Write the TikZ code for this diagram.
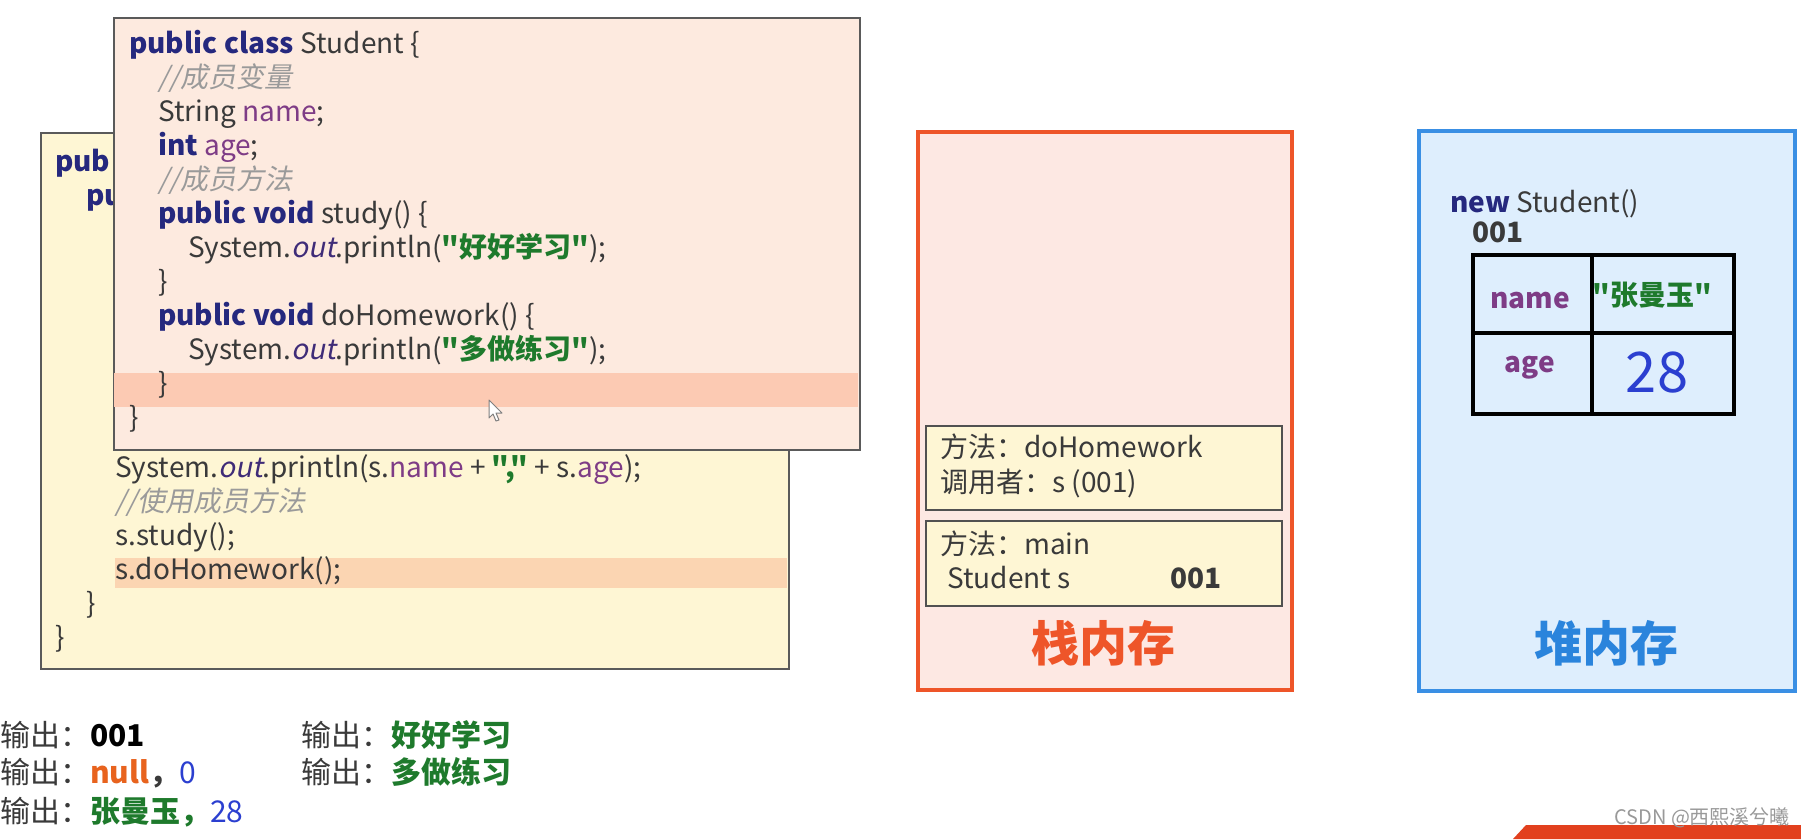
\documentclass[tikz,border=0pt]{standalone}
\usepackage{fontspec}
\setmainfont{Noto Sans CJK SC}[AutoFakeSlant=0.2,Ligatures=TeXOff]
\definecolor{codegray}{HTML}{3A3A3A}
\definecolor{kwblue}{HTML}{25287E}
\definecolor{fldpurple}{HTML}{7E3C86}
\definecolor{strgreen}{HTML}{1E7A2C}
\definecolor{cmgray}{HTML}{9A9A9A}
\definecolor{outpurple}{HTML}{3F2C78}
\definecolor{backfill}{HTML}{FEF6D4}
\definecolor{frontfill}{HTML}{FDEADF}
\definecolor{hlfront}{HTML}{FCCAB3}
\definecolor{hlback}{HTML}{FBD5B2}
\definecolor{boxline}{HTML}{5A5A5A}
\definecolor{stackline}{HTML}{EE5529}
\definecolor{stackfill}{HTML}{FDE8E3}
\definecolor{heapline}{HTML}{3A8FE4}
\definecolor{heapfill}{HTML}{DEEEFD}
\definecolor{heaptitle}{HTML}{2A84DC}
\definecolor{numblue}{HTML}{2B3FD0}
\definecolor{nullorange}{HTML}{E8631E}
\definecolor{banner}{HTML}{E2401E}
\newcommand\kwd[1]{\textbf{\color{kwblue}#1}}
\newcommand\fld[1]{{\color{fldpurple}#1}}
\newcommand\strg[1]{\textbf{\color{strgreen}#1}}
\newcommand\cmt[1]{{\itshape\color{cmgray}#1}}
\newcommand\outk[1]{{\itshape\color{outpurple}#1}}
\begin{document}
\begin{tikzpicture}[x=1pt,y=-1pt,
  code/.style={anchor=base west,inner sep=0pt,text=codegray,font=\fontsize{28}{34}\selectfont},
  outtxt/.style={anchor=base west,inner sep=0pt,text=codegray,font=\fontsize{30}{36}\selectfont},
  frametxt/.style={anchor=base west,inner sep=0pt,text=codegray,font=\fontsize{28}{32}\selectfont},
  title/.style={inner sep=0pt,font=\fontsize{48}{52}\selectfont\bfseries},
  winbox/.style={draw=boxline,line width=2pt},
  framebox/.style={draw=boxline!90!black,line width=2pt,fill=backfill},
  cell/.style={draw=black,line width=4pt}]
\useasboundingbox (0,0) rectangle (1801,839);
\fill[white] (0,0) rectangle (1801,839);

% ---------- back window (main method) ----------
\node[winbox,fill=backfill,anchor=north west,minimum width=748pt,minimum height=536pt,inner sep=0pt] (backwin) at (40,132) {};
\fill[hlback] (115,558) rectangle (787,588);
\node[code] (b0) at (55,171) {\kwd{pub}};
\node[code] (b1) at (86,205) {\kwd{pu}};
\node[code] (b9) at (115,477) {System.\outk{out}.println(s.\fld{name} + \strg{","} + s.\fld{age});};
\node[code] (b10) at (115,511) {\cmt{//使用成员方法}};
\node[code] (b11) at (115,545) {s.study();};
\node[code] (b12) at (115,579) {s.doHomework();};
\node[code] (b13) at (86,613) {\}};
\node[code] (b14) at (55,647) {\}};

% ---------- front window (Student class) ----------
\node[winbox,fill=frontfill,anchor=north west,minimum width=746pt,minimum height=432pt,inner sep=0pt] (frontwin) at (113,17) {};
\fill[hlfront] (114,373) rectangle (858,407);
\node[code] (f0) at (129,53) {\kwd{public class} Student \{};
\node[code] (f1) at (158,87) {\cmt{//成员变量}};
\node[code] (f2) at (158,121) {String \fld{name};};
\node[code] (f3) at (158,155) {\kwd{int} \fld{age};};
\node[code] (f4) at (158,189) {\cmt{//成员方法}};
\node[code] (f5) at (158,223) {\kwd{public void} study() \{};
\node[code] (f6) at (188,257) {System.\outk{out}.println(\strg{"好好学习"});};
\node[code] (f7) at (158,291) {\}};
\node[code] (f8) at (158,325) {\kwd{public void} doHomework() \{};
\node[code] (f9) at (188,359) {System.\outk{out}.println(\strg{"多做练习"});};
\node[code] (f10) at (158,393) {\}};
\node[code] (f11) at (129,427) {\}};
% mouse pointer
\filldraw[fill=white,draw=gray,line width=1pt,line join=round] (489,400) -- (489,418) -- (493,414) -- (496,421) -- (499,420) -- (496,413) -- (502,413) -- cycle;

% ---------- stack ----------
\node[draw=stackline,line width=4pt,fill=stackfill,anchor=north west,minimum width=374pt,minimum height=558pt,inner sep=0pt] (stack) at (916,130) {};
\node[framebox,anchor=north west,minimum width=356pt,minimum height=84pt,inner sep=0pt] (frame1) at (925,425) {};
\node[framebox,anchor=north west,minimum width=356pt,minimum height=85pt,inner sep=0pt] (frame2) at (925,520) {};
\node[frametxt] (f1a) at (940,457) {方法：doHomework};
\node[frametxt] (f1b) at (940,492) {调用者：s (001)};
\node[frametxt] (f2a) at (940,554) {方法：main};
\node[frametxt] (f2b) at (947,588) {Student s};
\node[frametxt] (f2c) at (1170,588) {\textbf{001}};
\node[title,text=stackline] (stacktitle) at (1103,643) {栈内存};

% ---------- heap ----------
\node[draw=heapline,line width=4pt,fill=heapfill,anchor=north west,minimum width=376pt,minimum height=560pt,inner sep=0pt] (heap) at (1417,129) {};
\node[code] (newobj) at (1450,212) {\kwd{new} Student()};
\node[code] (addr) at (1472,242) {\textbf{001}};
\node[cell,anchor=north west,minimum width=119pt,minimum height=78pt,inner sep=0pt] (kname) at (1471,253) {};
\node[cell,anchor=north west,minimum width=142pt,minimum height=78pt,inner sep=0pt] (vname) at (1590,253) {};
\node[cell,anchor=north west,minimum width=119pt,minimum height=81pt,inner sep=0pt] (kage) at (1471,331) {};
\node[cell,anchor=north west,minimum width=142pt,minimum height=81pt,inner sep=0pt] (vage) at (1590,331) {};
\node[inner sep=0pt,font=\fontsize{28}{34}\selectfont\bfseries,text=fldpurple] (tname) at (1530,301) {name};
\node[inner sep=0pt,font=\fontsize{28}{34}\selectfont] (tzhang) at (1652,295) {\strg{"张曼玉"}};
\node[inner sep=0pt,font=\fontsize{28}{34}\selectfont\bfseries,text=fldpurple] (tage) at (1530,368) {age};
\node[inner sep=0pt,font=\fontsize{56}{60}\selectfont,text=numblue] (t28) at (1657,373) {28};
\node[title,text=heaptitle] (heaptitle) at (1606,643) {堆内存};

% ---------- outputs ----------
\node[outtxt] (o1) at (0,746) {输出：\textbf{\color{black}001}};
\node[outtxt] (o2) at (0,783) {输出：\textbf{\color{nullorange}null}\textbf{，}{\color{numblue}0}};
\node[outtxt] (o3) at (0,822) {输出：\textbf{\color{strgreen}张曼玉，}{\color{numblue}28}};
\node[outtxt] (o4) at (301,746) {输出：\textbf{\color{strgreen}好好学习}};
\node[outtxt] (o5) at (301,783) {输出：\textbf{\color{strgreen}多做练习}};

% ---------- bottom-right banner and watermark ----------
\fill[banner] (1513,839) -- (1526,825) -- (1801,825) -- (1801,839) -- cycle;
\node[inner sep=0pt,font=\fontsize{20}{22}\selectfont,text=gray!80,anchor=west] (wm) at (1614,818) {CSDN @西熙溪兮曦};
\end{tikzpicture}
\end{document}
